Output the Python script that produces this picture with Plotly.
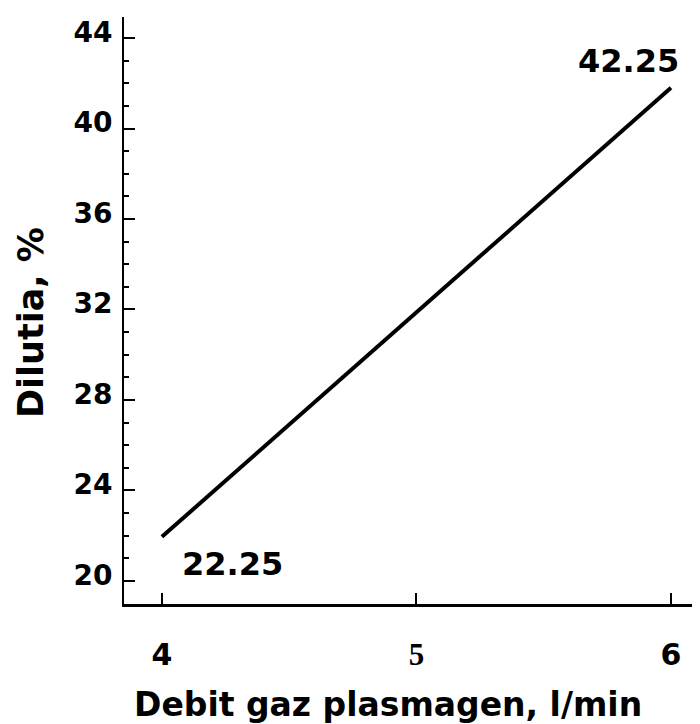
import plotly.graph_objects as go

# Data
gas_flow = [4, 6]                 # Debit gaz plasmagen, l/min
dilution = [21.95, 41.8]          # Dilutia, % (line endpoints as drawn)
point_labels = ["22.25", "42.25"] # value labels printed on the chart
x_tick_vals = [4, 5, 6]
x_tick_text = ["4",
               "<span style=\"font-family:'Liberation Serif';font-weight:bold;font-size:31px\">5</span>",
               "6"]
y_tick_vals = [20, 24, 28, 32, 36, 40, 44]

FONT = "DejaVu Sans"

# the page body adds an 8px margin, so the figure is drawn 8px smaller
OFF = 8
W, H = 700 - OFF, 724 - OFF
L, T, R, B = 124 - OFF, 17 - OFF, 0, 120
pw, ph = W - L - R, H - T - B

fig = go.Figure()
fig.add_trace(go.Scatter(
    x=gas_flow, y=dilution, mode="lines",
    line=dict(color="black", width=4), showlegend=False, hoverinfo="skip",
))

# value labels
fig.add_annotation(x=gas_flow[0], y=dilution[0], text=point_labels[0], showarrow=False,
                   xanchor="center", yanchor="middle", xshift=71, yshift=-27,
                   font=dict(family=FONT, size=32, color="black", weight="bold"))
fig.add_annotation(x=gas_flow[1], y=dilution[1], text=point_labels[1], showarrow=False,
                   xanchor="center", yanchor="middle", xshift=-42, yshift=27,
                   font=dict(family=FONT, size=32, color="black", weight="bold"))

# axis titles (positions given in page pixels, converted to paper coords)
def px_x(p):
    return (p - OFF - L) / pw

def px_y(p):
    return (T + ph - (p - OFF)) / ph

fig.add_annotation(xref="paper", yref="paper", x=px_x(132), y=px_y(704),
                   text="Debit gaz plasmagen, l/min", showarrow=False,
                   xanchor="left", yanchor="middle",
                   font=dict(family=FONT, size=33, color="black", weight="bold"))
fig.add_annotation(xref="paper", yref="paper", x=px_x(31), y=px_y(323),
                   text="Dilutia, %", showarrow=False, textangle=-90,
                   xanchor="center", yanchor="middle",
                   font=dict(family=FONT, size=35, color="black", weight="bold"))

fig.update_layout(
    width=W, height=H,
    margin=dict(l=L, r=R, t=T, b=B, autoexpand=False),
    paper_bgcolor="white", plot_bgcolor="white",
    xaxis=dict(
        range=[3.851, 6.114], showgrid=False, zeroline=False,
        showline=True, linecolor="black", linewidth=3,
        tickmode="array", tickvals=x_tick_vals, ticktext=x_tick_text,
        ticks="inside", ticklen=11, tickwidth=2, tickcolor="black",
        ticklabelstandoff=22,
        tickfont=dict(family=FONT, size=30, color="black", weight="bold"),
    ),
    yaxis=dict(
        range=[18.98, 44.93], showgrid=False, zeroline=False,
        showline=True, linecolor="black", linewidth=2,
        tickmode="array", tickvals=y_tick_vals,
        ticks="inside", ticklen=11, tickwidth=2, tickcolor="black",
        minor=dict(dtick=1, ticks="inside", ticklen=5, tickwidth=2, tickcolor="black"),
        ticklabelstandoff=4, ticklabelshift=-6,
        tickfont=dict(family=FONT, size=28, color="black", weight="bold"),
    ),
)

fig.write_html("out.html")
